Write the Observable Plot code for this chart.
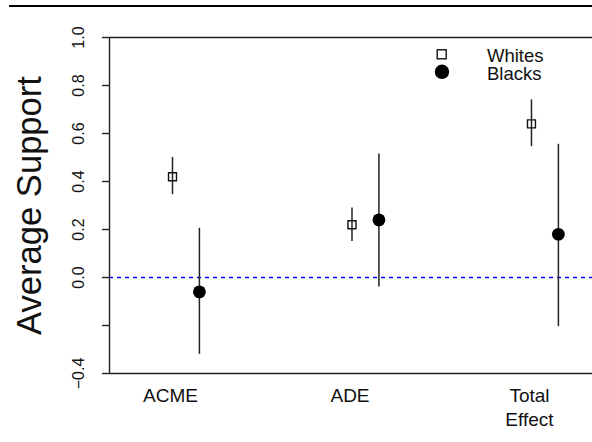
<!DOCTYPE html>
<html>
<head>
<meta charset="utf-8">
<script src="https://cdn.jsdelivr.net/npm/d3@7"></script>
<script src="https://cdn.jsdelivr.net/npm/@observablehq/plot@0.6"></script>
<style>
  html, body { margin: 0; padding: 0; background: #fff; }
  #wrap { position: relative; width: 592px; height: 442px; overflow: hidden; font-family: "Liberation Sans", Arial, sans-serif; }
  #topline { position: absolute; left: 9px; top: 5px; width: 583px; height: 2px; background: #000; }
  #legend { position: absolute; left: 0; top: 0; }
  svg { font-family: "Liberation Sans", Arial, sans-serif; }
</style>
</head>
<body>
<div id="wrap"><div id="topline"></div></div>
<script>
const categories = ["ACME", "ADE", "Total Effect"];
const groups = ["Whites", "Blacks"];
const groupOffset = [0, 0.15];
const whitesEst = [0.42, 0.22, 0.64];
const whitesLo = [0.345, 0.15, 0.545];
const whitesHi = [0.50, 0.29, 0.74];
const blacksEst = [-0.06, 0.24, 0.18];
const blacksLo = [-0.32, -0.04, -0.205];
const blacksHi = [0.205, 0.515, 0.555];
const yTicks = [-0.4, -0.2, 0, 0.2, 0.4, 0.6, 0.8, 1.0];
const yTickLabels = ["\u22120.4", "", "0.0", "0.2", "0.4", "0.6", "0.8", "1.0"];
const yLimits = [-0.4, 1.0];
const xLimits = [0.649, 3.34];
const yTitle = "Average Support";

const whites = categories.map((c, i) => ({cat: c, x: i + 1 + groupOffset[0], est: whitesEst[i], lo: whitesLo[i], hi: whitesHi[i]}));
const blacks = categories.map((c, i) => ({cat: c, x: i + 1 + groupOffset[1], est: blacksEst[i], lo: blacksLo[i], hi: blacksHi[i]}));

const chart = Plot.plot({
  width: 592,
  height: 442,
  marginLeft: 109,
  marginRight: 0,
  marginTop: 37,
  marginBottom: 69,
  x: {domain: xLimits, axis: null},
  y: {domain: yLimits, axis: null},
  style: {fontFamily: "Liberation Sans, Arial, sans-serif", background: "transparent"},
  marks: [
    Plot.ruleY([0], {stroke: "blue", strokeDasharray: "4,4", strokeWidth: 1.3}),
    Plot.ruleY(yLimits, {stroke: "#222", strokeWidth: 1.4}),
    Plot.ruleX([xLimits[0]], {y1: yLimits[0], y2: yLimits[1], stroke: "#222", strokeWidth: 1.4}),
    Plot.axisY({ticks: yTicks, tickSize: 7, tickFormat: () => "", label: null, stroke: "#222", strokeWidth: 1.4}),
    Plot.text(yTicks, {y: d => d, text: (d, i) => yTickLabels[i], frameAnchor: "left", textAnchor: "middle", lineAnchor: "middle", dx: -31, rotate: -90, fontSize: 16, fill: "#111"}),
    Plot.text([yTitle], {frameAnchor: "left", textAnchor: "middle", lineAnchor: "middle", dx: -80, rotate: -90, fontSize: 34.6, fill: "#111"}),
    Plot.text(categories, {x: (d, i) => i + 1, text: d => d.replace(" ", "\n"), frameAnchor: "bottom", textAnchor: "middle", lineAnchor: "top", dy: 12, dx: -2, fontSize: 19, lineHeight: 1.25, fill: "#111"}),
    Plot.ruleX(whites, {x: "x", y1: "lo", y2: "hi", stroke: "#222", strokeWidth: 1.5}),
    Plot.ruleX(blacks, {x: "x", y1: "lo", y2: "hi", stroke: "#222", strokeWidth: 1.5}),
    Plot.dot(whites, {x: "x", y: "est", symbol: "square", r: 4.5, stroke: "#111", strokeWidth: 1.4, fill: "none"}),
    Plot.dot(blacks, {x: "x", y: "est", r: 6.4, fill: "#000", stroke: "none"})
  ]
});

const wrap = document.getElementById("wrap");
wrap.insertBefore(chart, wrap.firstChild);

// legend overlay
const ns = "http://www.w3.org/2000/svg";
const leg = document.createElementNS(ns, "svg");
leg.setAttribute("id", "legend");
leg.setAttribute("width", 592);
leg.setAttribute("height", 100);
const baselines = [61.5, 80];
groups.forEach((g, i) => {
  if (i === 0) {
    const r = document.createElementNS(ns, "rect");
    r.setAttribute("x", 437.2); r.setAttribute("y", 49.8);
    r.setAttribute("width", 9); r.setAttribute("height", 9);
    r.setAttribute("fill", "none"); r.setAttribute("stroke", "#111"); r.setAttribute("stroke-width", 1.4);
    leg.appendChild(r);
  } else {
    const c = document.createElementNS(ns, "circle");
    c.setAttribute("cx", 442); c.setAttribute("cy", 71.8); c.setAttribute("r", 7.2);
    c.setAttribute("fill", "#000");
    leg.appendChild(c);
  }
  const t = document.createElementNS(ns, "text");
  t.setAttribute("x", 487); t.setAttribute("y", baselines[i]);
  t.setAttribute("font-size", 18.5); t.setAttribute("fill", "#111");
  t.textContent = g;
  leg.appendChild(t);
});
wrap.appendChild(leg);
</script>
</body>
</html>
